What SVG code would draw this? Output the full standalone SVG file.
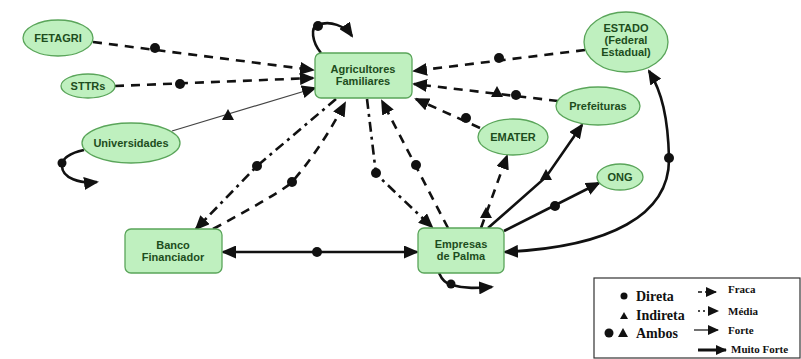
<svg xmlns="http://www.w3.org/2000/svg" width="801" height="359" viewBox="0 0 801 359">
<style>
.node{fill:#bff0bf;stroke:#5aa55a;stroke-width:1.3}
.lbl{font-family:"Liberation Sans",Arial,sans-serif;font-weight:bold;font-size:11px;fill:#1d4d1d;text-anchor:middle}
.c{fill:none;stroke:#111;stroke-linecap:butt}
.dash{stroke-width:2.6;stroke-dasharray:9,7}
.dd{stroke-width:2.6;stroke-dasharray:10,5,3,5}
.thick{stroke-width:2.6}
.thin{stroke-width:1.2;stroke:#444}
.dot{fill:#111}
.leg{font-family:"Liberation Serif","Times New Roman",serif;font-weight:bold;fill:#111}
</style>
<defs>
<marker id="a" markerUnits="userSpaceOnUse" markerWidth="15" markerHeight="13" refX="13" refY="6.5" orient="auto-start-reverse"><path d="M0,0 L15,6.5 L0,13 Z" fill="#111"/></marker>
<marker id="s" markerUnits="userSpaceOnUse" markerWidth="11" markerHeight="10" refX="10" refY="5" orient="auto"><path d="M0,0 L11,5 L0,10 Z" fill="#111"/></marker>
</defs>
<rect width="801" height="359" fill="#fff"/>
<g id="connectors">
<path class="c dash" d="M93,42 L313,70" marker-end="url(#a)"/>
<circle class="dot" cx="155" cy="48" r="5"/>
<path class="c dash" d="M115,86 L313,78" marker-end="url(#a)"/>
<circle class="dot" cx="180" cy="84" r="5"/>
<path class="c thin" d="M172,131 L315,88" marker-end="url(#a)"/>
<polygon class="dot" points="228,109 234,120 222,120"/>
<path class="c thick" d="M321,53 C312,42 310,27 318,25 C330,20 345,26 352,36" marker-end="url(#a)"/>
<circle class="dot" cx="318" cy="26" r="5"/>
<path class="c thick" d="M84,150 C70,153 62,158 62,166 C62,178 80,184 97,182" marker-end="url(#a)"/>
<circle class="dot" cx="62" cy="163" r="4.5"/>
<path class="c dash" d="M585,50 L414,71" marker-end="url(#a)"/>
<circle class="dot" cx="499" cy="58" r="5"/>
<path class="c dash" d="M558,101 L414,84" marker-end="url(#a)"/>
<polygon class="dot" points="497,86 503,97 491,97"/>
<circle class="dot" cx="516" cy="95" r="5"/>
<path class="c dash" d="M480,128 L416,99" marker-end="url(#a)"/>
<circle class="dot" cx="466" cy="118" r="5"/>
<path class="c dd" d="M336,99 L257,166 L196,229" marker-end="url(#a)"/>
<circle class="dot" cx="257" cy="166" r="5"/>
<path class="c dash" d="M213,229 Q282,192 292,182 Q320,150 345,103" marker-end="url(#a)"/>
<circle class="dot" cx="292" cy="182" r="5"/>
<path class="c dd" d="M367,99 L376,174 L432,227" marker-end="url(#a)"/>
<circle class="dot" cx="376" cy="173" r="5"/>
<path class="c dash" d="M448,228 L382,101" marker-end="url(#a)"/>
<circle class="dot" cx="416" cy="165" r="5"/>
<path class="c dash" d="M481,228 L507,156" marker-end="url(#a)"/>
<polygon class="dot" points="486,207 492,218 480,218"/>
<path class="c thick" d="M488,228 L546,177 L582,125" marker-end="url(#a)"/>
<polygon class="dot" points="546,169 552,180 540,180"/>
<path class="c thick" d="M504,231 L599,183" marker-end="url(#a)"/>
<circle class="dot" cx="555" cy="206" r="5"/>
<path class="c thick" d="M505,252 C610,247 670,215 669,158 C668,118 662,92 649,71" marker-start="url(#a)" marker-end="url(#a)"/>
<circle class="dot" cx="669" cy="158" r="5"/>
<path class="c thick" d="M223,252 L417,252" marker-start="url(#a)" marker-end="url(#a)"/>
<circle class="dot" cx="317" cy="252" r="5"/>
<path class="c thick" d="M439,273 C442,280 446,284 452,285 C465,289 478,288 492,287" marker-end="url(#a)"/>
<circle class="dot" cx="451" cy="284" r="4.5"/>
</g>
<g id="fetagri"><ellipse class="node" cx="58" cy="38" rx="35" ry="18"/><text class="lbl" x="58" y="42">FETAGRI</text></g>
<g id="sttrs"><ellipse class="node" cx="88" cy="86" rx="27" ry="12"/><text class="lbl" x="88" y="90">STTRs</text></g>
<g id="universidades"><ellipse class="node" cx="131" cy="143" rx="49" ry="20"/><text class="lbl" x="131" y="147">Universidades</text></g>
<g id="agricultores"><rect class="node" x="315" y="53" width="97" height="45" rx="6"/><text class="lbl" x="363" y="73">Agricultores</text><text class="lbl" x="363" y="85">Familiares</text></g>
<g id="banco"><rect class="node" x="125" y="229" width="97" height="44" rx="6"/><text class="lbl" x="173" y="249">Banco</text><text class="lbl" x="173" y="261">Financiador</text></g>
<g id="empresas"><rect class="node" x="418" y="228" width="86" height="45" rx="6"/><text class="lbl" x="461" y="248">Empresas</text><text class="lbl" x="461" y="260">de Palma</text></g>
<g id="emater"><ellipse class="node" cx="513" cy="137" rx="35" ry="18"/><text class="lbl" x="513" y="141">EMATER</text></g>
<g id="prefeituras"><ellipse class="node" cx="598" cy="106" rx="42" ry="19"/><text class="lbl" x="598" y="110">Prefeituras</text></g>
<g id="ong"><ellipse class="node" cx="620" cy="177" rx="23" ry="13"/><text class="lbl" x="620" y="181">ONG</text></g>
<g id="estado"><ellipse class="node" cx="626" cy="42" rx="42" ry="30"/><text class="lbl" x="626" y="32">ESTADO</text><text class="lbl" x="626" y="44">(Federal</text><text class="lbl" x="626" y="56">Estadual)</text></g>
<g id="legend">
<rect x="594" y="278" width="206" height="80" fill="#fff" stroke="#333" stroke-width="1.2"/>
<circle class="dot" cx="624" cy="296" r="3.5"/>
<text class="leg" x="636" y="301" font-size="14">Direta</text>
<polygon class="dot" points="624,312 628,319 620,319"/>
<text class="leg" x="636" y="320" font-size="14">Indireta</text>
<circle class="dot" cx="609" cy="333" r="4.5"/>
<polygon class="dot" points="623,328 628,337 618,337"/>
<text class="leg" x="636" y="338" font-size="14">Ambos</text>
<path class="c" d="M698,292 L716,292" stroke-width="1.5" stroke-dasharray="4,3" marker-end="url(#s)"/>
<text class="leg" x="728" y="293" font-size="11">Fraca</text>
<path class="c" d="M698,311 L718,311" stroke-width="1.5" stroke-dasharray="2,3" marker-end="url(#s)"/>
<text class="leg" x="728" y="315" font-size="11">Média</text>
<path class="c" d="M694,330 L718,330" stroke-width="1.2" marker-end="url(#s)"/>
<text class="leg" x="728" y="334" font-size="11">Forte</text>
<path class="c" d="M698,350 L726,350" stroke-width="3" marker-end="url(#s)"/>
<text class="leg" x="731" y="353" font-size="11">Muito Forte</text>
</g>
</svg>
